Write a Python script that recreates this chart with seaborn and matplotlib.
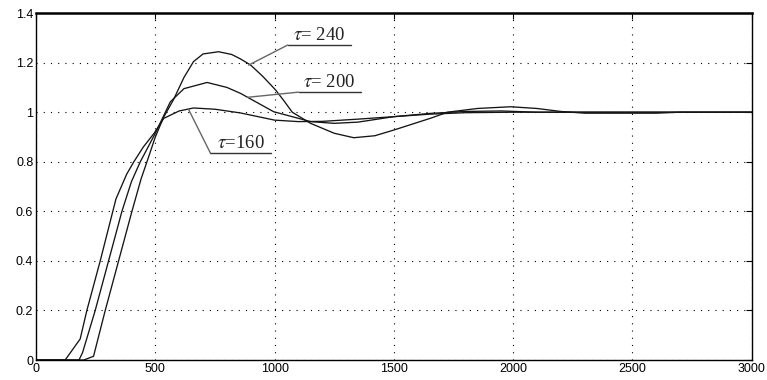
import numpy as np
import pandas as pd
import matplotlib
matplotlib.use("Agg")
import matplotlib.pyplot as plt
import seaborn as sns

# ---- data ----
x_160 = [0, 122, 185, 213, 269, 335, 380, 410, 450, 495, 535, 600, 660, 750, 857,
         1000, 1100, 1200, 1350, 1500, 1650, 1800, 2000, 3000]
y_160 = [0, 0, 0.085, 0.2, 0.4, 0.65, 0.75, 0.80, 0.86, 0.915, 0.975, 1.005, 1.017, 1.012, 0.997,
         0.968, 0.962, 0.963, 0.972, 0.982, 0.992, 0.998, 1.0, 1.0]

x_200 = [0, 180, 195, 248, 304, 360, 400, 437, 470, 500, 563, 620, 717, 800, 857,
         996, 1151, 1250, 1350, 1500, 1650, 1800, 1950, 2100, 3000]
y_200 = [0, 0, 0.03, 0.2, 0.4, 0.6, 0.72, 0.80, 0.86, 0.915, 1.042, 1.095, 1.12, 1.10, 1.076,
         1.002, 0.962, 0.955, 0.96, 0.982, 0.995, 1.003, 1.005, 1.0, 1.0]

x_240 = [0, 200, 241, 290, 346, 402, 440, 465, 500, 535, 576, 620, 660, 700, 765, 820, 857,
         900, 950, 1004, 1040, 1074, 1151, 1250, 1332, 1420, 1500, 1655, 1725, 1850, 1990, 2100,
         2200, 2300, 2600, 2700, 3000]
y_240 = [0, 0, 0.015, 0.2, 0.4, 0.6, 0.73, 0.80, 0.90, 0.98, 1.05, 1.14, 1.204, 1.235, 1.244, 1.233, 1.215,
         1.19, 1.145, 1.09, 1.045, 1.0, 0.955, 0.915, 0.897, 0.905, 0.928, 0.976, 1.0, 1.015, 1.022, 1.015,
         1.003, 0.996, 0.996, 1.0, 1.0]

series_names = ["160", "200", "240"]
x_ticks = [0, 500, 1000, 1500, 2000, 2500, 3000]
y_ticks = [0, 0.2, 0.4, 0.6, 0.8, 1.0, 1.2, 1.4]
y_tick_labels = ["0", "0.2", "0.4", "0.6", "0.8", "1", "1.2", "1.4"]

frames = []
for name, xs, ys in zip(series_names, [x_160, x_200, x_240], [y_160, y_200, y_240]):
    frames.append(pd.DataFrame({"t": xs, "y": ys, "tau": name}))
df = pd.concat(frames, ignore_index=True)

# ---- plot ----
sns.set_style("white")
plt.rcParams["font.family"] = ["Liberation Sans", "DejaVu Sans"]
plt.rcParams["mathtext.fontset"] = "stix"

fig = plt.figure(figsize=(7.67, 3.80), dpi=100)
ax = fig.add_axes([0.047, 0.0526, 0.933, 0.913])

sns.lineplot(data=df, x="t", y="y", hue="tau", palette=["#151515"] * 3,
             linewidth=0.95, legend=False, ax=ax, sort=False, estimator=None)

ax.set_xlim(0, 3000)
ax.set_ylim(0, 1.4)
ax.set_xticks(x_ticks)
ax.set_xticklabels([str(v) for v in x_ticks])
ax.set_yticks(y_ticks)
ax.set_yticklabels(y_tick_labels)
ax.set_xlabel("")
ax.set_ylabel("")

ax.grid(True, color="black", linestyle=(0, (1, 5.5)), linewidth=0.8)
ax.tick_params(direction="in", length=4, width=0.8, labelsize=9, colors="black",
               top=True, right=True, pad=2)
for s in ["left", "bottom", "right"]:
    ax.spines[s].set_color("black")
    ax.spines[s].set_linewidth(1.0)
ax.spines["top"].set_color("black")
ax.spines["top"].set_linewidth(1.8)

# ---- labels with leaders and underlines ----
label_font = dict(fontsize=13.5, family=["Liberation Serif", "DejaVu Serif"], color="#222222",
                  ha="center", va="bottom")
labels = [
    (r"$\tau$= 240", (1187, 1.275), (1055, 1319, 1.271), (891, 1.19)),
    (r"$\tau$= 200", (1230, 1.085), (1101, 1361, 1.081), (886, 1.06)),
    (r"$\tau$=160", (857, 0.839), (731, 983, 0.835), (639, 1.012)),
]
for txt, (tx, ty), (ux0, ux1, uy), (lx, ly) in labels:
    ax.text(tx, ty, txt, **label_font)
    ax.plot([ux0, ux1], [uy, uy], color="#333333", linewidth=1.0)
    ax.plot([ux0, lx], [uy, ly], color="#666666", linewidth=1.0)

fig.savefig("out.png", dpi=100)
